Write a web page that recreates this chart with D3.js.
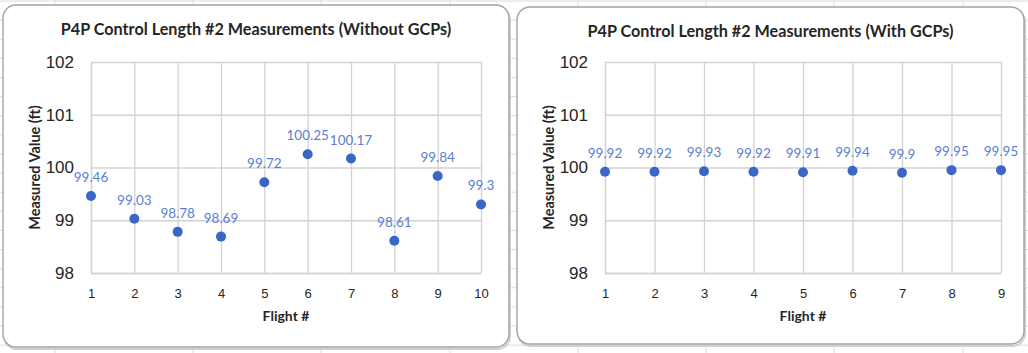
<!DOCTYPE html>
<html>
<head>
<meta charset="utf-8">
<script src="https://cdn.jsdelivr.net/npm/d3@7"></script>
<style>
    body { margin: 0; background: #fff; }
    svg { display: block; font-family: Lato, "Liberation Sans", Arial, sans-serif; }
    .grid line { stroke: #d2d2d2; stroke-width: 1.3; }
    .grid path { stroke: #d2d2d2; stroke-width: 1.3; }
    .tick-label text { fill: #262626; }
    .chart-title { font-weight: bold; fill: #262626; }
    .axis-label { font-weight: bold; fill: #262626; }
    .data-label { fill: #5a7fd2; }
</style>
</head>
<body>
<div id="root"></div>
<script>
// Chart data
const flightsNoGcp = [1, 2, 3, 4, 5, 6, 7, 8, 9, 10];
const valuesNoGcp = [99.46, 99.03, 98.78, 98.69, 99.72, 100.25, 100.17, 98.61, 99.84, 99.3];

const flightsGcp = [1, 2, 3, 4, 5, 6, 7, 8, 9];
const valuesGcp = [99.92, 99.92, 99.93, 99.92, 99.91, 99.94, 99.9, 99.95, 99.95];

const yTicks = [98, 99, 100, 101, 102];

const titleNoGcp = "P4P Control Length #2 Measurements (Without GCPs)";
const titleGcp = "P4P Control Length #2 Measurements (With GCPs)";

const svg = d3.select("#root").append("svg")
    .attr("width", 1028)
    .attr("height", 353);

// Spreadsheet cells behind the charts
const sheet = svg.append("g").attr("class", "sheet");
const colLines = [55, 193, 321, 450, 578, 706, 834, 963];
sheet.selectAll(".col").data(colLines).join("line")
    .attr("x1", d => d).attr("x2", d => d)
    .attr("y1", 0).attr("y2", 353)
    .attr("stroke", "#dcdcdc").attr("stroke-width", 1);
sheet.selectAll(".row").data(d3.range(0, 19)).join("line")
    .attr("x1", 0).attr("x2", 1028)
    .attr("y1", d => 1 + d * 19.12).attr("y2", d => 1 + d * 19.12)
    .attr("stroke", "#dcdcdc").attr("stroke-width", 1);

class ScatterChart {
    constructor(_config, _flights, _values) {
        this.config = _config;
        this.flights = _flights;
        this.values = _values;
        this.InitVis();
    }

    InitVis() {
        const vis = this;
        const c = vis.config;

        vis.g = svg.append("g").attr("transform", `translate(${c.left},${c.top})`);

        // Chart box
        vis.g.append("rect")
            .attr("x", 1).attr("y", 2)
            .attr("width", c.boxWidth).attr("height", c.boxHeight)
            .attr("rx", 13)
            .attr("fill", "none")
            .attr("stroke", "#d0d0d0").attr("stroke-width", 2);
        vis.g.append("rect")
            .attr("width", c.boxWidth).attr("height", c.boxHeight)
            .attr("rx", 13)
            .attr("fill", "#fff")
            .attr("stroke", "#a3a3a3").attr("stroke-width", 1.4);

        vis.width = c.plot.right - c.plot.left;
        vis.height = c.plot.bottom - c.plot.top;

        vis.plot = vis.g.append("g")
            .attr("transform", `translate(${c.plot.left},${c.plot.top})`);

        vis.x = d3.scaleLinear().domain(d3.extent(vis.flights)).range([0, vis.width]);
        vis.y = d3.scaleLinear().domain([98, 102]).range([vis.height, 0]);

        // Gridlines + tick labels
        vis.plot.append("g")
            .attr("class", "grid tick-label")
            .attr("transform", `translate(0,${vis.height})`)
            .call(d3.axisBottom(vis.x).tickValues(vis.flights).tickFormat(d3.format("d"))
                .tickSizeInner(-vis.height).tickSizeOuter(0).tickPadding(16))
            .call(g => g.selectAll("text").style("font-size", "13px"));

        vis.plot.append("g")
            .attr("class", "grid tick-label")
            .call(d3.axisLeft(vis.y).tickValues(yTicks).tickFormat(d3.format("d"))
                .tickSizeInner(-vis.width).tickSizeOuter(0).tickPadding(17))
            .call(g => g.selectAll("text").style("font-size", "17px"));

        // Points
        vis.plot.selectAll(".dot")
            .data(vis.values)
            .join("circle")
            .attr("class", "dot")
            .attr("cx", (d, i) => vis.x(vis.flights[i]))
            .attr("cy", d => vis.y(d))
            .attr("r", 5)
            .attr("fill", "#3a66c7");

        // Data labels
        vis.plot.selectAll(".data-label")
            .data(vis.values)
            .join("text")
            .attr("class", "data-label")
            .attr("x", (d, i) => vis.x(vis.flights[i]))
            .attr("y", d => vis.y(d) - 14)
            .attr("text-anchor", "middle")
            .style("font-size", "13.5px")
            .text(d => String(d));

        // Titles
        vis.g.append("text")
            .attr("class", "chart-title")
            .attr("x", c.boxWidth / 2)
            .attr("y", 30)
            .attr("text-anchor", "middle")
            .style("font-size", "16.2px")
            .text(c.title);

        vis.g.append("text")
            .attr("class", "axis-label")
            .attr("x", (c.plot.left + c.plot.right) / 2)
            .attr("y", c.plot.bottom + 48)
            .attr("text-anchor", "middle")
            .style("font-size", "14px")
            .text("Flight #");

        vis.g.append("text")
            .attr("class", "axis-label")
            .attr("transform", `translate(${c.yTitleX},${(c.plot.top + c.plot.bottom) / 2}) rotate(-90)`)
            .attr("text-anchor", "middle")
            .style("font-size", "14.5px")
            .text("Measured Value (ft)");
    }
}

new ScatterChart({
    left: 3, top: 5, boxWidth: 506, boxHeight: 342,
    plot: { left: 88, right: 478, top: 57, bottom: 268 },
    yTitleX: 37,
    title: titleNoGcp
}, flightsNoGcp, valuesNoGcp);

new ScatterChart({
    left: 517, top: 7, boxWidth: 507, boxHeight: 337,
    plot: { left: 88, right: 484, top: 55, bottom: 266 },
    yTitleX: 37,
    title: titleGcp
}, flightsGcp, valuesGcp);
</script>
</body>
</html>
